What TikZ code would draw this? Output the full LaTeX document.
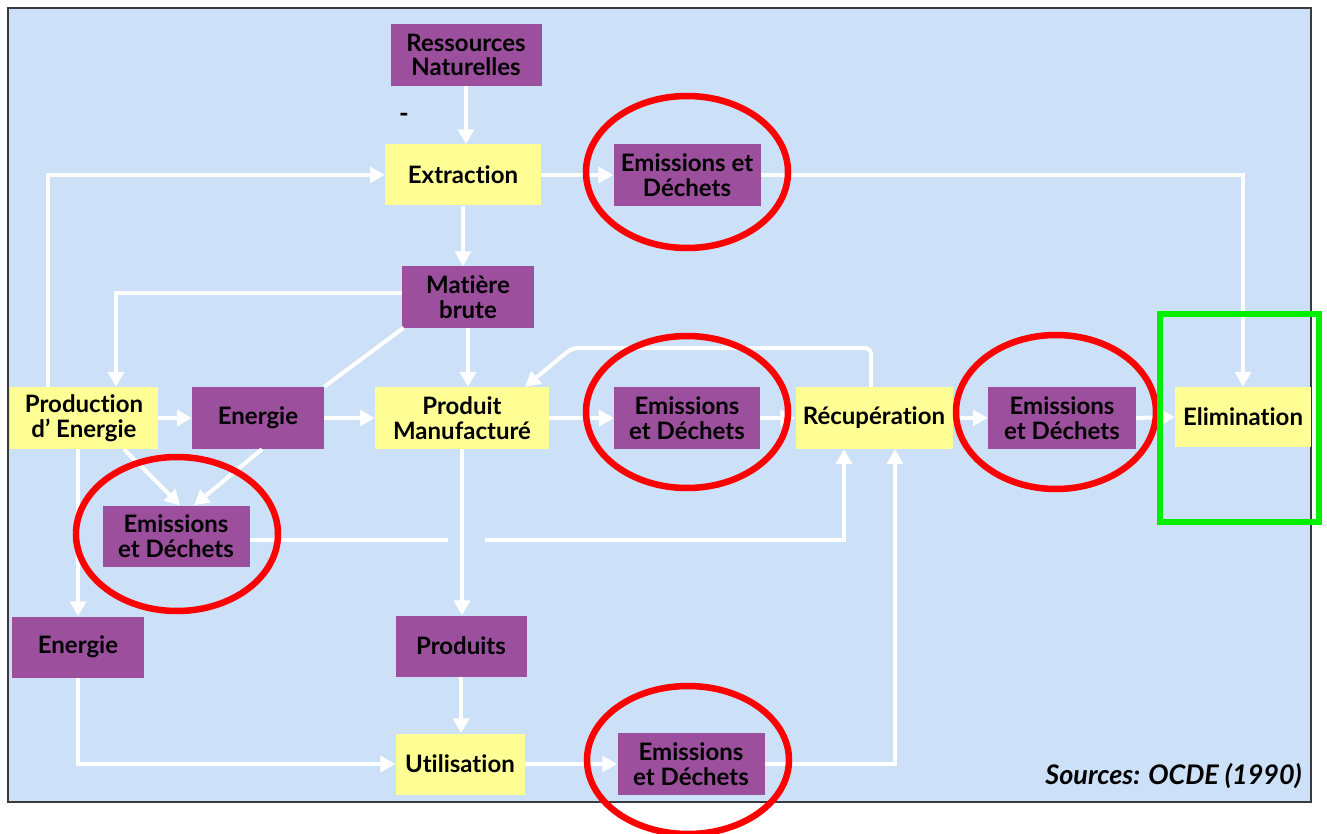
\documentclass[tikz,border=0pt]{standalone}
\usepackage{fontspec}
\setmainfont{Lato}[Ligatures={NoCommon,NoContextual}]
\usetikzlibrary{arrows.meta,calc}
\definecolor{bgblue}{HTML}{CCE0F8}
\definecolor{purpc}{HTML}{9C4F9D}
\definecolor{yelc}{HTML}{FFFF96}
\definecolor{framec}{HTML}{3A3A3A}
\definecolor{redc}{HTML}{FF0000}
\definecolor{greenc}{HTML}{00F000}
\newcommand\boxfont{\fontsize{24}{24.5}\selectfont\bfseries}
\tikzset{
  pbox/.style={fill=purpc, inner sep=0pt, align=center, font=\boxfont, text=black},
  ybox/.style={fill=yelc, inner sep=0pt, align=center, font=\boxfont, text=black},
  wline/.style={draw=white, line width=4pt},
  warr/.style={draw=white, line width=4pt, -{Triangle[length=15pt,width=16pt]}},
  redring/.style={draw=redc, line width=6.5pt},
}
\begin{document}
\begin{tikzpicture}[x=1pt,y=-1pt]
\useasboundingbox (0,0) rectangle (1327,834);
% frame
\draw[fill=bgblue, draw=framec, line width=2pt] (8,8) rectangle (1311,802);

% nodes
\node[pbox, minimum width=151pt, minimum height=62pt] (res) at (466,55) {Ressources\\Naturelles};
\node[ybox, minimum width=156pt, minimum height=61pt] (ext) at (463,175) {Extraction};
\node[pbox, minimum width=147pt, minimum height=62pt] (em1) at (687,175) {Emissions et\\Déchets};
\node[pbox, minimum width=132pt, minimum height=61pt] (mat) at (468,297) {Matière\\brute};
\node[ybox, minimum width=148pt, minimum height=62pt] (prod) at (84,418) {Production\\d' Energie};
\node[pbox, minimum width=132pt, minimum height=62pt] (en1) at (258,418) {Energie};
\node[ybox, minimum width=174pt, minimum height=62pt] (pm) at (462,418) {Produit\\Manufacturé};
\node[pbox, minimum width=146pt, minimum height=62pt] (em2) at (687,418) {Emissions\\et Déchets};
\node[ybox, minimum width=157pt, minimum height=62pt] (rec) at (874,418) {Récupération};
\node[pbox, minimum width=148pt, minimum height=62pt] (em3) at (1062,418) {Emissions\\et Déchets};
\node[ybox, minimum width=136pt, minimum height=60pt] (eli) at (1243,417) {Elimination};
\node[pbox, minimum width=147pt, minimum height=61pt] (em4) at (176,536) {Emissions\\et Déchets};
\node[pbox, minimum width=132pt, minimum height=61pt] (en2) at (78,647) {Energie};
\node[pbox, minimum width=131pt, minimum height=61pt] (prods) at (461,646) {Produits};
\node[ybox, minimum width=129pt, minimum height=61pt] (util) at (460,764) {Utilisation};
\node[pbox, minimum width=147pt, minimum height=62pt] (em5) at (691,764) {Emissions\\et Déchets};

\node[font=\fontsize{27}{28}\selectfont\bfseries\itshape, anchor=east, inner sep=0pt] (src) at (1302,776) {Sources: OCDE (1990)};
\node[font=\fontsize{26}{26}\selectfont\bfseries, inner sep=0pt] (dash) at (404,118) {-};

% helper coordinates
\coordinate (lc) at (572,348);
\coordinate (gapL) at (448,540);
\coordinate (gapR) at (485,540);

% connectors
\draw[warr] (res.south) -- (res.south |- ext.north);
\draw[warr] (ext.south) -- (ext.south |- mat.north);
\draw[warr] (ext.east) -- (em1.west);
\draw[warr] (em1.east) -| (eli.north);
\draw[warr] ([xshift=-36pt]prod.north) |- (ext.west);
\draw[warr] ([yshift=4pt]mat.west) -| ([xshift=32pt]prod.north);
\draw[wline] ([xshift=2pt]mat.south west) -- (en1.north east);
\draw[warr] (mat.south) -- (mat.south |- pm.north);
\draw[warr] (prod.east) -- (en1.west);
\draw[warr] (en1.east) -- (pm.west);
\draw[warr] (pm.east) -- (em2.west);
\draw[warr] (em2.east) -- (rec.west);
\draw[warr] (rec.east) -- (em3.west);
\draw[warr] (em3.east) -- (eli.west);
\draw[warr, rounded corners=6pt] ([xshift=-3pt]rec.north) |- (lc) -- ([xshift=63pt]pm.north);
\draw[warr] ([xshift=40pt]prod.south) -- ([xshift=4pt]em4.north);
\draw[warr] ([xshift=4pt]en1.south) -- ([xshift=18pt]em4.north);
\draw[warr] (en2.north |- prod.south) -- (en2.north);
\draw[wline] ([yshift=-4pt]em4.east) -- (gapL);
\draw[warr] (gapR) -| ([xshift=-30pt]rec.south);
\draw[warr] (pm.south) -- (pm.south |- prods.north);
\draw[warr] (prods.south) -- (prods.south |- util.north);
\draw[warr] (en2.south) |- (util.west);
\draw[warr] (util.east) -- (em5.west);
\draw[warr] (em5.east) -| ([xshift=21pt]rec.south);

% highlight rings
\draw[redring] (687,172) ellipse [x radius=101, y radius=76];
\draw[redring] (687,412) ellipse [x radius=101, y radius=76];
\draw[redring] (1056,412) ellipse [x radius=100, y radius=77];
\draw[redring] (177,534) ellipse [x radius=101, y radius=77];
\draw[redring] (688,760) ellipse [x radius=101, y radius=74];
\draw[draw=greenc, line width=6pt] (1160,314) rectangle (1319,522);
\end{tikzpicture}
\end{document}
